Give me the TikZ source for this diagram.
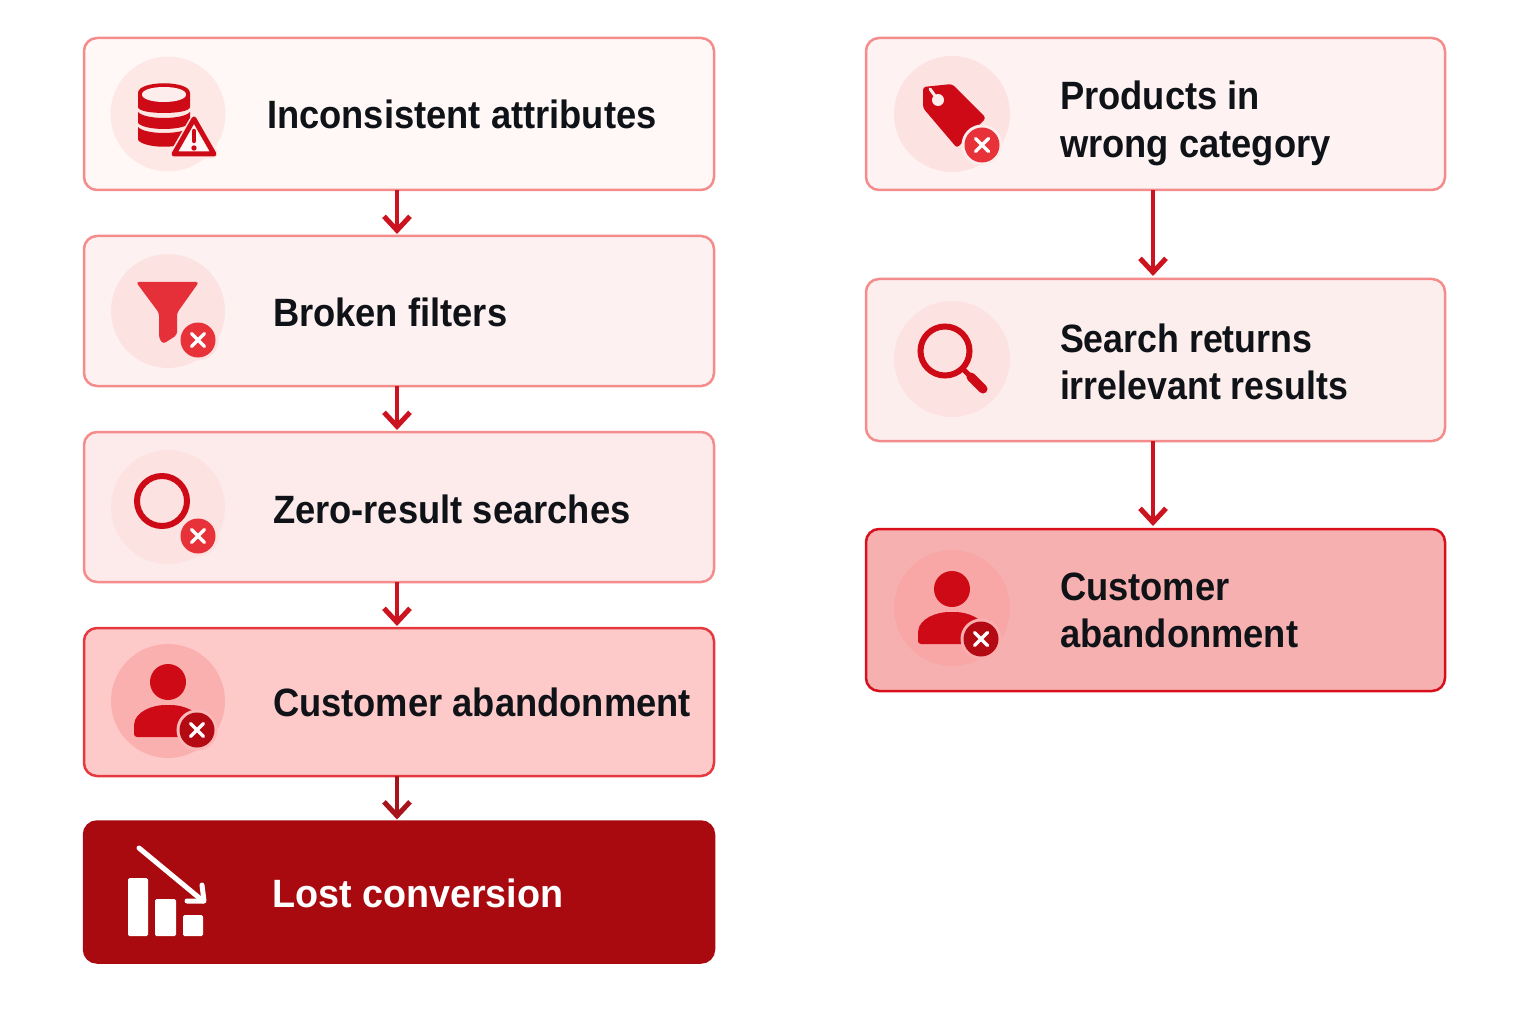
\documentclass[tikz,border=0pt]{standalone}
\usepackage{fontspec}
\setmainfont[FakeStretch=0.92,BoldFont=* Bold]{Liberation Sans}
\newfontfamily\widefont[FakeStretch=0.955,BoldFont=* Bold]{Liberation Sans}
\newfontfamily\narrowfont[FakeStretch=0.905,BoldFont=* Bold]{Liberation Sans}
\usetikzlibrary{arrows.meta}
\definecolor{iconred}{HTML}{CE0A16}
\definecolor{badgered}{HTML}{E8323A}
\definecolor{funnelred}{HTML}{E5303A}
\definecolor{darkbadge}{HTML}{B30A14}
\definecolor{arrowred}{HTML}{CC1420}
\definecolor{arrowdark}{HTML}{A8141C}
\definecolor{lostred}{HTML}{A80A10}
\definecolor{inkc}{HTML}{0F1216}
\definecolor{softedge}{HTML}{F48C8C}
\definecolor{midedge}{HTML}{E5393F}
\definecolor{strongedge}{HTML}{D8101C}
\definecolor{boxa}{HTML}{FFF8F7}
\definecolor{boxb}{HTML}{FEF1F1}
\definecolor{boxc}{HTML}{FDEBEC}
\definecolor{boxd}{HTML}{FDC9C9}
\definecolor{boxe}{HTML}{FEF3F2}
\definecolor{boxf}{HTML}{FDEEEE}
\definecolor{boxg}{HTML}{F7B0B0}
\definecolor{disca}{HTML}{FDE8E6}
\definecolor{discb}{HTML}{FCE2E1}
\definecolor{discc}{HTML}{FBB0B0}
\definecolor{discd}{HTML}{F9A6A6}
\definecolor{ringa}{HTML}{FDEDEC}
\definecolor{ringb}{HTML}{FBB8B8}
\definecolor{ringc}{HTML}{FAAEAE}
\tikzset{
  flowbox/.style={rectangle,rounded corners=13pt,inner sep=0pt,outer sep=0pt,line width=2.5pt},
  leftbox/.style={flowbox,minimum width=630pt},
  rightbox/.style={flowbox,minimum width=579pt},
  flowtext/.style={anchor=base west,inner sep=0pt,outer sep=0pt,text=inkc,font=\fontsize{39.5}{48}\selectfont\bfseries},
  flowarrow/.style={draw=arrowred,line width=4.2pt,-{Straight Barb[length=14pt,width=26pt,line width=5pt]}},
  badgemark/.style={draw=white,line width=3.5pt,line cap=round},
}
\newcommand{\xbadge}[4]{%
  \fill[#4] (#1,#2) circle (20.5pt);
  \fill[#3] (#1,#2) circle (17.5pt);
  \draw[badgemark] (#1-6.5,#2-6.5) -- (#1+6.5,#2+6.5) (#1-6.5,#2+6.5) -- (#1+6.5,#2-6.5);
}
\newcommand{\personicon}[3]{%
  \fill[#3] (#1,#2) circle (18pt);
  \fill[#3,rounded corners=3pt] (#1-34,#2+55) -- (#1-34,#2+45)
    .. controls (#1-33,#2+30) and (#1-16,#2+23) .. (#1,#2+23)
    .. controls (#1+16,#2+23) and (#1+33,#2+30) .. (#1+34,#2+45)
    -- (#1+34,#2+55) -- cycle;
}
\begin{document}
\begin{tikzpicture}[x=1pt,y=-1pt]
\useasboundingbox (0,0) rectangle (1536,1024);
\fill[white] (0,0) rectangle (1536,1024);

% boxes, left column
\node[leftbox,minimum height=152pt,draw=softedge,fill=boxa] (l1) at (399,114) {};
\node[leftbox,minimum height=150pt,draw=softedge,fill=boxb] (l2) at (399,311) {};
\node[leftbox,minimum height=150pt,draw=softedge,fill=boxc] (l3) at (399,507) {};
\node[leftbox,minimum height=148pt,draw=midedge,fill=boxd] (l4) at (399,702) {};
\node[leftbox,minimum height=141pt,draw=lostred,fill=lostred] (l5) at (399,892) {};
% boxes, right column
\node[rightbox,minimum height=152pt,draw=softedge,fill=boxe] (r1) at (1155.5,114) {};
\node[rightbox,minimum height=162pt,draw=softedge,fill=boxf] (r2) at (1155.5,360) {};
\node[rightbox,minimum height=162pt,draw=strongedge,fill=boxg] (r3) at (1155.5,610) {};

% connectors
\draw[flowarrow] ([xshift=-2pt]l1.south) -- ([xshift=-2pt,yshift=2pt]l2.north);
\draw[flowarrow] ([xshift=-2pt]l2.south) -- ([xshift=-2pt,yshift=2pt]l3.north);
\draw[flowarrow] ([xshift=-2pt]l3.south) -- ([xshift=-2pt,yshift=2pt]l4.north);
\draw[flowarrow,draw=arrowdark] ([xshift=-2pt]l4.south) -- ([xshift=-2pt,yshift=2pt]l5.north);
\draw[flowarrow] ([xshift=-2.5pt]r1.south) -- ([xshift=-2.5pt,yshift=3pt]r2.north);
\draw[flowarrow] ([xshift=-2.5pt]r2.south) -- ([xshift=-2.5pt,yshift=3pt]r3.north);

% discs
\fill[disca] (168,114) circle (57.5pt);
\fill[discb] (168,311) circle (57pt);
\fill[discb] (168,507) circle (57pt);
\fill[discc] (168,701) circle (57pt);
\fill[discb] (952,114) circle (58pt);
\fill[discb] (952,359) circle (58pt);
\fill[discd] (952,608) circle (58pt);

% database + warning
\fill[iconred] (138,93) .. controls (138,80) and (190,80) .. (190,93) -- (190,107)
  .. controls (190,115) and (138,115) .. (138,107) -- cycle;
\fill[ringa] (142,94.5) .. controls (142,84.5) and (186,84.5) .. (186,94.5)
  .. controls (186,104.5) and (142,104.5) .. (142,94.5) -- cycle;
\fill[iconred] (138,112) .. controls (145,120) and (183,120) .. (190,112) -- (190,123)
  .. controls (183,131) and (145,131) .. (138,123) -- cycle;
\fill[iconred] (138,127) .. controls (145,135) and (183,135) .. (190,127) -- (190,140)
  .. controls (183,149) and (145,149) .. (138,140) -- cycle;
\draw[line width=11pt,disca,line join=round,fill=disca] (194,122) -- (176,153) -- (212,153) -- cycle;
\draw[line width=5pt,iconred,line join=round,fill=boxa] (194,119) -- (174,154) -- (214,154) -- cycle;
\draw[iconred,line width=4.5pt,line cap=round] (194,131) -- (194,141);
\fill[iconred] (194,148) circle (2.7pt);

% funnel
\fill[funnelred,rounded corners=3pt] (136,282) -- (199,282) -- (177,313) -- (177,335) -- (163,344) -- (159,338) -- (159,313) -- cycle;
\xbadge{198}{340}{badgered}{discb}

% zero-result ring
\draw[iconred,line width=6pt] (162,501) circle (25pt);
\xbadge{198}{536}{badgered}{discb}

% person, left
\personicon{168}{682}{iconred}
\xbadge{197}{730}{darkbadge}{ringb}

% lost conversion chart
\fill[white,rounded corners=1.5pt] (128,878) rectangle (148,936);
\fill[white,rounded corners=1.5pt] (155,899) rectangle (176,936);
\fill[white,rounded corners=1.5pt] (183,915) rectangle (203,936);
\draw[white,line width=5pt,line cap=round] (139,848) -- (203,901);
\draw[white,line width=5pt,line cap=round,line join=round] (187,901) -- (204,901) -- (202,885);

% tag
\fill[iconred,rounded corners=3pt] (923,87) -- (952,84) -- (986,118) -- (957,148) -- (923,108) -- cycle;
\fill[ringa] (938,100) circle (6pt);
\draw[ringa,line width=3pt,line cap=round] (930,89) -- (938,100);
\xbadge{982}{145}{badgered}{ringa}

% magnifier
\draw[iconred,line width=6pt] (945,351) circle (24.5pt);
\draw[iconred,line width=5pt] (962,368) -- (971,377);
\draw[iconred,line width=9pt,line cap=round] (971,377) -- (983,389);

% person, right
\personicon{952}{589}{iconred}
\xbadge{981}{639}{darkbadge}{ringc}

% texts
\node[flowtext] (t1) at (267,129) {Inconsistent attributes};
\node[flowtext] (t2) at (273,326.5) {Broken filters};
\node[flowtext] (t3) at (273,523.5) {Zero-result searches};
\node[flowtext] (t4) at (273,716.5) {Customer abandonment};
\node[flowtext,text=white] (t5) at (272,907.5) {\widefont Lost conversion};
\node[flowtext] (t6) at (1060,110) {Products in};
\node[flowtext] (t7) at (1060,158) {wrong category};
\node[flowtext] (t8) at (1060,352.5) {\narrowfont Search returns};
\node[flowtext] (t9) at (1060,399.5) {\narrowfont irrelevant results};
\node[flowtext] (t10) at (1060,600.5) {Customer};
\node[flowtext] (t11) at (1060,647.5) {abandonment};
\end{tikzpicture}
\end{document}
